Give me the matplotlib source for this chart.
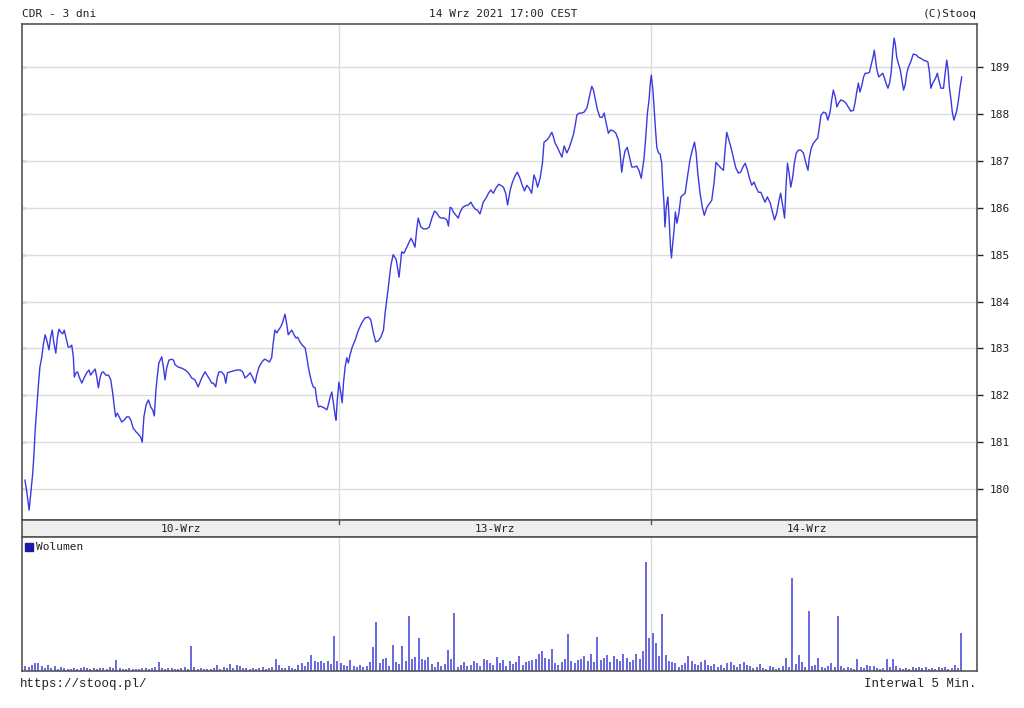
import numpy as np
import matplotlib
matplotlib.use("Agg")
import matplotlib.pyplot as plt

# CDR, 5-min bars over 3 sessions (bar number, price)
bar_no = [
    0.9, 1.4, 2.2, 2.8, 3.3, 3.7, 4.0, 4.5, 5.0, 5.5, 6.1, 6.6, 7.1, 7.6, 8.3, 8.8, 9.3, 9.8, 10.4, 10.9,
    11.4, 11.9, 12.5, 13.0, 13.5, 14.2, 14.8, 15.3, 15.8, 16.1, 16.6, 17.1, 17.6, 18.4, 19.1, 19.9, 20.6, 21.1, 21.8, 22.5,
    23.0, 23.5, 24.0, 24.5, 25.0, 25.8, 26.6, 27.3, 27.9, 28.4, 28.8, 29.3, 29.9, 30.7, 31.4, 32.2, 32.9, 33.5, 34.2, 35.1,
    35.8, 36.5, 37.0, 37.5, 38.2, 38.9, 39.6, 40.2, 40.7, 41.2, 41.6, 42.1, 42.5, 43.0, 43.5, 44.0, 44.5, 45.2, 46.1, 46.6,
    47.1, 48.1, 49.1, 50.2, 51.2, 52.2, 53.2, 54.2, 55.3, 56.3, 57.3, 58.4, 58.9, 59.6, 60.1, 60.6, 61.4, 62.2, 62.7, 63.2,
    64.0, 65.0, 66.1, 67.1, 67.9, 68.6, 69.3, 70.2, 70.9, 71.7, 72.2, 72.9, 73.8, 74.6, 75.3, 76.1, 76.8, 77.3, 77.8, 78.4,
    78.9, 79.6, 80.2, 80.9, 81.4, 81.9, 82.5, 83.0, 83.7, 84.3, 84.8, 85.5, 86.2, 87.1, 87.6, 88.1, 88.6, 89.1, 89.6, 90.2,
    90.7, 91.2, 91.7, 92.4, 93.0, 93.8, 94.2, 94.8, 95.3, 95.8, 96.3, 96.6, 97.0, 97.5, 98.1, 98.5, 98.9, 99.4, 99.9, 100.4,
    100.9, 101.6, 102.5, 103.5, 104.5, 105.5, 106.6, 107.3, 108.1, 108.8, 109.6, 110.4, 111.2, 111.7, 112.2, 112.6, 113.5, 114.2, 115.1, 116.0,
    116.8, 117.5, 118.4, 119.1, 119.7, 120.4, 120.9, 121.4, 121.9, 122.7, 123.5, 124.5, 125.3, 126.1, 126.9, 127.6, 128.4, 129.1, 129.9, 130.7,
    131.2, 131.7, 132.2, 132.7, 133.5, 134.2, 134.8, 135.6, 136.3, 137.3, 138.1, 138.7, 139.4, 140.1, 140.9, 141.4, 141.9, 142.8, 143.5, 144.2,
    145.0, 145.8, 146.6, 147.3, 148.1, 148.8, 149.4, 150.2, 150.9, 151.7, 152.4, 153.2, 153.9, 154.6, 155.3, 156.0, 156.8, 157.5, 158.1, 158.6,
    159.4, 160.1, 160.6, 161.4, 162.2, 163.0, 163.5, 164.0, 164.7, 165.5, 166.1, 166.8, 167.6, 168.3, 168.9, 169.6, 170.2, 170.7, 171.4, 172.2,
    172.9, 173.8, 174.2, 174.8, 175.3, 175.8, 176.3, 177.0, 177.8, 178.5, 179.1, 179.7, 180.4, 181.1, 181.9, 182.7, 183.5, 184.0, 184.5, 185.0,
    185.5, 186.2, 186.9, 187.6, 188.4, 189.1, 189.8, 190.5, 191.0, 191.4, 191.9, 192.4, 192.9, 193.3, 193.6, 194.1, 194.5, 194.9, 195.3, 195.8,
    196.3, 196.8, 197.1, 197.5, 197.8, 198.2, 198.7, 199.1, 199.5, 199.8, 200.2, 200.6, 201.0, 201.5, 202.1, 202.7, 203.3, 204.0, 204.7, 205.5,
    206.2, 206.9, 207.4, 207.9, 208.6, 209.3, 209.9, 210.7, 211.4, 212.2, 212.9, 213.5, 214.2, 215.0, 215.8, 216.3, 216.8, 217.3, 218.1, 218.9,
    219.6, 220.4, 221.1, 221.8, 222.5, 223.2, 223.8, 224.5, 225.2, 225.8, 226.6, 227.3, 227.9, 228.6, 229.3, 230.2, 230.9, 231.5, 232.2, 232.9,
    233.4, 234.1, 234.6, 235.1, 235.5, 236.0, 236.5, 237.1, 237.6, 238.2, 238.9, 239.6, 240.4, 241.1, 241.8, 242.2, 242.8, 243.5, 244.2, 244.8,
    245.3, 245.8, 246.6, 247.3, 247.9, 248.6, 249.1, 249.6, 250.2, 250.7, 251.2, 251.9, 252.7, 253.5, 254.2, 255.0, 255.8, 256.3, 256.8, 257.3,
    257.8, 258.4, 258.9, 259.4, 260.1, 260.7, 261.2, 261.8, 262.2, 262.6, 263.0, 263.6, 264.2, 264.8, 265.3, 265.8, 266.4, 266.9, 267.4, 267.9,
    268.3, 268.7, 269.1, 269.6, 270.2, 270.7, 271.2, 271.7, 272.2, 272.7, 273.4, 274.2, 275.1, 275.8, 276.5, 277.3, 278.1, 278.7, 279.2, 279.6,
    280.2, 280.7, 281.2, 281.6, 282.2, 282.7, 283.5, 284.0, 284.5, 284.9, 285.3, 285.8, 286.2, 286.7, 287.2, 287.6, 288.1, 288.6, 289.1,
]
price = [
    180.19, 179.98, 179.55, 179.98, 180.34, 180.77, 181.2, 181.69, 182.18, 182.6, 182.82, 183.1, 183.29, 183.18, 182.97, 183.24, 183.39, 183.12, 182.9, 183.24,
    183.41, 183.35, 183.31, 183.39, 183.24, 183.03, 183.03, 183.07, 182.82, 182.39, 182.48, 182.5, 182.39, 182.26, 182.37, 182.48, 182.54, 182.43, 182.5, 182.56,
    182.39, 182.16, 182.37, 182.48, 182.5, 182.43, 182.43, 182.33, 182.05, 181.75, 181.54, 181.62, 181.54, 181.43, 181.47, 181.54, 181.54, 181.47, 181.3, 181.22,
    181.17, 181.11, 181.0, 181.54, 181.8, 181.9, 181.75, 181.69, 181.56, 182.11, 182.39, 182.69, 182.75, 182.82, 182.6, 182.33, 182.58, 182.75, 182.77, 182.75,
    182.65, 182.6, 182.58, 182.54, 182.48, 182.37, 182.33, 182.18, 182.37, 182.5, 182.39, 182.26, 182.26, 182.18, 182.39, 182.5, 182.5, 182.43, 182.26, 182.48,
    182.5, 182.52, 182.54, 182.54, 182.5, 182.37, 182.41, 182.48, 182.39, 182.26, 182.43, 182.6, 182.71, 182.77, 182.75, 182.71, 182.8, 183.12, 183.39, 183.33,
    183.39, 183.46, 183.56, 183.73, 183.54, 183.29, 183.35, 183.39, 183.29, 183.22, 183.24, 183.14, 183.07, 183.01, 182.82, 182.6, 182.43, 182.28, 182.18, 182.16,
    181.9, 181.75, 181.77, 181.75, 181.73, 181.69, 181.79, 181.96, 182.07, 181.84, 181.58, 181.47, 181.9, 182.28, 182.05, 181.84, 182.26, 182.6, 182.8, 182.69,
    182.86, 183.03, 183.18, 183.39, 183.54, 183.65, 183.67, 183.61, 183.33, 183.14, 183.16, 183.24, 183.39, 183.75, 184.03, 184.25, 184.78, 185.0, 184.9, 184.52,
    185.06, 185.03, 185.16, 185.27, 185.35, 185.25, 185.16, 185.52, 185.78, 185.59, 185.55, 185.55, 185.59, 185.78, 185.93, 185.89, 185.8, 185.78, 185.78, 185.74,
    185.61, 186.01, 185.99, 185.91, 185.84, 185.78, 185.91, 186.01, 186.04, 186.06, 186.12, 186.04, 185.97, 185.95, 185.87, 185.99, 186.12, 186.21, 186.31, 186.38,
    186.31, 186.42, 186.5, 186.48, 186.44, 186.31, 186.06, 186.38, 186.55, 186.68, 186.76, 186.63, 186.48, 186.36, 186.48, 186.42, 186.31, 186.7, 186.59, 186.44,
    186.63, 186.95, 187.4, 187.44, 187.51, 187.61, 187.51, 187.38, 187.29, 187.17, 187.08, 187.32, 187.17, 187.27, 187.4, 187.55, 187.76, 187.98, 188.02, 188.02,
    188.04, 188.13, 188.25, 188.45, 188.59, 188.51, 188.34, 188.1, 187.93, 187.93, 188.02, 187.81, 187.59, 187.66, 187.64, 187.59, 187.44, 187.17, 186.76, 187.02,
    187.21, 187.29, 187.08, 186.87, 186.87, 186.89, 186.8, 186.63, 186.87, 187.08, 187.51, 188.02, 188.3, 188.66, 188.83, 188.51, 188.08, 187.66, 187.29, 187.17,
    187.15, 186.95, 186.53, 186.1, 185.59, 186.01, 186.23, 185.74, 185.16, 184.93, 185.25, 185.52, 185.91, 185.67, 185.89, 186.23, 186.27, 186.31, 186.65, 187.02,
    187.23, 187.4, 187.17, 186.74, 186.31, 186.01, 185.84, 186.01, 186.08, 186.16, 186.53, 186.97, 186.91, 186.85, 186.8, 187.23, 187.61, 187.49, 187.29, 187.06,
    186.85, 186.74, 186.76, 186.87, 186.95, 186.8, 186.63, 186.48, 186.55, 186.44, 186.33, 186.33, 186.23, 186.12, 186.23, 186.1, 185.91, 185.74, 185.89, 186.16,
    186.31, 186.01, 185.78, 186.53, 186.95, 186.74, 186.44, 186.65, 186.95, 187.17, 187.23, 187.23, 187.17, 186.97, 186.8, 187.06, 187.27, 187.38, 187.44, 187.49,
    187.72, 187.98, 188.04, 188.02, 187.87, 188.04, 188.3, 188.51, 188.36, 188.15, 188.23, 188.3, 188.28, 188.23, 188.15, 188.06, 188.08, 188.25, 188.47, 188.66,
    188.47, 188.62, 188.79, 188.87, 188.87, 188.89, 189.04, 189.21, 189.36, 189.15, 188.94, 188.79, 188.83, 188.87, 188.77, 188.66, 188.55, 188.66, 188.89, 189.36,
    189.62, 189.47, 189.21, 189.08, 188.94, 188.72, 188.51, 188.62, 188.87, 189.0, 189.11, 189.28, 189.26, 189.21, 189.19, 189.15, 189.13, 189.11, 188.87, 188.55,
    188.66, 188.72, 188.79, 188.87, 188.68, 188.55, 188.55, 188.87, 189.15, 188.94, 188.57, 188.3, 188.04, 187.87, 187.98, 188.08, 188.3, 188.57, 188.79,
]

# volume per 5-min bar (relative units)
volume = [
    5, 4, 6, 8, 8, 5, 3, 6, 3, 5, 2, 4, 3, 2, 2, 3, 2, 3, 4, 3,
    2, 3, 2, 3, 3, 2, 4, 3, 11, 3, 2, 2, 3, 2, 2, 2, 3, 3, 2, 3,
    4, 9, 3, 2, 3, 3, 2, 2, 3, 4, 2, 25, 4, 2, 3, 2, 2, 2, 3, 6,
    2, 4, 3, 7, 3, 6, 5, 3, 3, 2, 3, 2, 3, 4, 2, 3, 4, 12, 6, 3,
    3, 5, 3, 2, 6, 8, 5, 9, 16, 10, 9, 10, 8, 10, 7, 35, 10,
    8, 6, 5, 11, 5, 4, 6, 4, 5, 9, 24, 49, 8, 12, 13, 5, 26, 9, 7, 25,
    10, 55, 12, 14, 33, 12, 11, 14, 7, 4, 9, 5, 7, 21, 12, 58, 4, 6, 9, 5,
    6, 10, 8, 5, 12, 11, 8, 6, 14, 8, 11, 5, 10, 7, 9, 15, 6, 9, 10, 11,
    12, 17, 20, 13, 12, 22, 8, 6, 9, 12, 37, 10, 8, 11, 12, 15, 10, 17, 9, 34,
    11, 13, 16, 9, 15, 12, 10, 17, 13, 9, 11, 17, 12, 20, 109, 33,
    38, 28, 15, 57, 16, 10, 9, 8, 4, 6, 8, 15, 10, 7, 6, 9, 11, 6, 5, 7,
    4, 6, 3, 8, 9, 6, 4, 7, 9, 6, 5, 3, 4, 7, 3, 2, 5, 4, 2, 3,
    5, 13, 4, 93, 7, 16, 9, 4, 60, 5, 6, 13, 4, 3, 5, 8, 4, 55, 5, 3,
    4, 3, 2, 12, 4, 3, 6, 5, 5, 3, 2, 3, 12, 4, 12, 5, 3, 2, 3, 2,
    4, 3, 4, 3, 4, 2, 3, 2, 4, 3, 4, 2, 3, 6, 3, 38,
]

day_edges = [0, 97.5, 193.5, 289.5]
day_labels = ["10-Wrz", "13-Wrz", "14-Wrz"]
price_ticks = [180, 181, 182, 183, 184, 185, 186, 187, 188, 189]

line_col = "#3a3ae0"
vol_col = "#6868e0"
grid_col = "#dcdcdc"
mono = "DejaVu Sans Mono"

fig = plt.figure(figsize=(10.24, 7.08), dpi=100)
W, H = 1024, 708

def box(l, t, r, b):
    return [l / W, 1 - b / H, (r - l) / W, (b - t) / H]

ax = fig.add_axes(box(22, 24, 977, 520))
axd = fig.add_axes(box(22, 520, 977, 537))
axv = fig.add_axes(box(22, 537, 977, 671))

xmax = 293.8

# price pane
ax.plot(bar_no, price, color=line_col, lw=1.0)
ax.set_xlim(0, xmax)
ax.set_ylim(179.34, 189.92)
ax.set_yticks(price_ticks)
ax.set_xticks(day_edges[1:3])
ax.yaxis.tick_right()
ax.tick_params(axis="y", direction="out", length=4, width=1,
               labelsize=8, colors="#222222", pad=5)
ax.tick_params(axis="x", length=0, labelbottom=False)
for lbl in ax.get_yticklabels():
    lbl.set_family(mono)
ax.grid(True, color=grid_col, lw=1.0)
ax.set_axisbelow(True)
for s in ax.spines.values():
    s.set_color("#555555")
    s.set_linewidth(1.2)

# small inward ticks on the left edge
left = ax.secondary_yaxis("left")
left.set_yticks(price_ticks)
left.tick_params(direction="in", length=3, width=1, colors="#555555", labelleft=False)
left.spines["left"].set_visible(False)

# date band
axd.set_facecolor("#eeeeee")
axd.set_xlim(0, xmax)
axd.set_ylim(0, 1)
axd.set_xticks([])
axd.set_yticks([])
for i, lab in enumerate(day_labels):
    mid = (day_edges[i] + day_edges[i + 1]) / 2
    axd.text(mid, 0.45, lab, ha="center", va="center", fontsize=8,
             family=mono, color="#222222")
for e in day_edges[1:3]:
    axd.plot([e, e], [0.75, 1.0], color="#555555", lw=1)
for s in axd.spines.values():
    s.set_color("#555555")
    s.set_linewidth(1.2)

# volume pane
vx = np.arange(1, len(volume) + 1)
axv.vlines(vx, 0, volume, color=vol_col, lw=1.4)
axv.set_xlim(0, xmax)
axv.set_ylim(0, 134)
axv.set_xticks(day_edges[1:3])
axv.set_yticks([])
axv.tick_params(axis="x", length=0, labelbottom=False)
axv.grid(True, axis="x", color=grid_col, lw=1.0)
axv.set_axisbelow(True)
for s in axv.spines.values():
    s.set_color("#555555")
    s.set_linewidth(1.2)
axv.plot([2.2], [124], marker="s", ms=6, color="#1a1aa8", clip_on=False)
axv.text(4.3, 124, "Wolumen", va="center", ha="left", fontsize=8,
         family=mono, color="#222222")

# header / footer
fig.text(22 / W, 1 - 14 / H, "CDR - 3 dni", fontsize=8, family=mono,
         va="center", ha="left", color="#222222")
fig.text(503 / W, 1 - 14 / H, "14 Wrz 2021 17:00 CEST", fontsize=8, family=mono,
         va="center", ha="center", color="#222222")
fig.text(977 / W, 1 - 14 / H, "(C)Stooq", fontsize=8, family=mono,
         va="center", ha="right", color="#222222")
fig.text(20 / W, 1 - 684 / H, "https://stooq.pl/", fontsize=9, family="Liberation Mono",
         va="center", ha="left", color="#222222")
fig.text(977 / W, 1 - 684 / H, "Interwal 5 Min.", fontsize=9, family="Liberation Mono",
         va="center", ha="right", color="#222222")

fig.savefig("out.png", dpi=100)
